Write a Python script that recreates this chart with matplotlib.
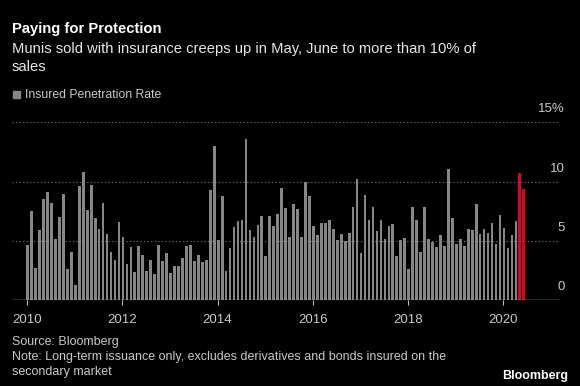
import numpy as np
import matplotlib
matplotlib.use("Agg")
import matplotlib.pyplot as plt
from matplotlib.patches import Rectangle

# monthly insured penetration rate (%), Jan 2010 .. Jun 2020
rate_2010 = [4.7, 7.5, 2.7, 5.9, 8.55, 9.1, 8.2, 5.2, 7.0, 9.0, 2.6, 4.1]
rate_2011 = [1.3, 9.6, 10.8, 7.6, 9.7, 6.9, 6.0, 8.2, 5.6, 4.05, 3.4, 6.6]
rate_2012 = [5.3, 3.1, 4.5, 2.4, 4.6, 3.8, 2.5, 3.4, 2.2, 4.7, 3.3, 4.0]
rate_2013 = [2.3, 2.9, 2.9, 3.6, 4.6, 4.7, 3.3, 3.85, 3.25, 3.4, 9.3, 13.0]
rate_2014 = [5.05, 8.8, 2.5, 4.4, 6.2, 6.65, 6.8, 13.6, 5.9, 5.35, 6.35, 7.1]
rate_2015 = [3.7, 7.1, 6.3, 7.25, 9.45, 7.75, 5.3, 8.1, 7.7, 5.35, 10.0, 8.8]
rate_2016 = [6.25, 5.5, 6.5, 6.55, 6.8, 6.0, 5.1, 5.6, 5.0, 5.65, 7.9, 10.2]
rate_2017 = [4.0, 8.85, 6.8, 7.9, 5.85, 6.8, 5.2, 6.3, 6.4, 3.75, 5.05, 5.25]
rate_2018 = [2.65, 7.9, 6.8, 4.1, 7.9, 5.15, 4.95, 4.5, 5.5, 4.6, 11.05, 6.9]
rate_2019 = [4.75, 5.2, 4.55, 6.05, 5.9, 8.1, 5.55, 6.05, 5.7, 6.5, 4.75, 7.2]
rate_2020 = [6.1, 4.4, 5.5, 6.7, 10.75, 9.4]

rates = (rate_2010 + rate_2011 + rate_2012 + rate_2013 + rate_2014 + rate_2015
         + rate_2016 + rate_2017 + rate_2018 + rate_2019 + rate_2020)
highlight = ["2020-05", "2020-06"]  # months drawn in red
months = [f"{2010 + i // 12}-{i % 12 + 1:02d}" for i in range(len(rates))]
year_ticks = [2010, 2012, 2014, 2016, 2018, 2020]
y_ticks = [0, 5, 10, 15]

BG = "black"
GREY_BAR = "#868686"
RED = "#e3001f"
TXT = "#c8c8c8"

plt.rcParams['font.family'] = ['Liberation Sans', 'DejaVu Sans']

fig = plt.figure(figsize=(5.8, 3.86), dpi=100, facecolor=BG)
ax = fig.add_axes([0.0207, 0.222, 0.945, 0.461], facecolor=BG)

x = np.arange(len(rates)) + 0.15
colors = [RED if m in highlight else GREY_BAR for m in months]
ax.bar(x, rates, width=0.68, color=colors, zorder=2)

ax.set_xlim(-3.8, 134.3)
ax.set_ylim(0, 15)

# dotted grid + labels sitting above the lines
for v in y_ticks[1:]:
    ax.axhline(v, color="#6a6a6a", linestyle=(0, (1.2, 2.0)), linewidth=0.8, zorder=1)
for v in y_ticks:
    lab = f"{v}%" if v == 15 else str(v)
    ax.annotate(lab, xy=(1.009, v), xycoords=ax.get_yaxis_transform(),
                xytext=(0, 5), textcoords="offset points",
                ha="right", va="bottom", color=TXT, fontsize=9.5)

ax.axhline(0, color="#bdbdbd", linewidth=1.0, zorder=3)
ax.set_yticks([])
ax.set_xticks([(y - 2010) * 12 for y in year_ticks])
ax.set_xticklabels([str(y) for y in year_ticks])
ax.tick_params(axis="x", colors="#bdbdbd", labelcolor=TXT, length=3.5,
               width=0.8, pad=6, labelsize=9.5)
for s in ax.spines.values():
    s.set_visible(False)

# header
fig.text(0.0207, 1 - 33.3 / 386, "Paying for Protection", color="white",
         fontsize=10.6, fontweight="bold", va="baseline")
fig.text(0.0207, 1 - 53.3 / 386,
         "Munis sold with insurance creeps up in May, June to more than 10% of",
         color="#e6e6e6", fontsize=10.6, va="baseline")
fig.text(0.0207, 1 - 71 / 386, "sales", color="#e6e6e6", fontsize=10.6, va="baseline")

# legend
fig.patches.append(Rectangle((12.7 / 580, 1 - 98.3 / 386), 7.3 / 580, 7.6 / 386,
                             transform=fig.transFigure, color=GREY_BAR))
fig.text(25 / 580, 1 - 98.5 / 386, "Insured Penetration Rate", color=TXT,
         fontsize=8.8, va="baseline")

# footer
fig.text(0.0207, 1 - 345 / 386, "Source: Bloomberg", color=TXT, fontsize=9, va="baseline")
fig.text(0.0207, 1 - 360 / 386,
         "Note: Long-term issuance only, excludes derivatives and bonds insured on the",
         color=TXT, fontsize=9, va="baseline")
fig.text(0.0207, 1 - 375 / 386, "secondary market", color=TXT, fontsize=9, va="baseline")
fig.text(568 / 580, 1 - 379 / 386, "Bloomberg", color="white", fontsize=9,
         fontweight="bold", ha="right", va="baseline")

fig.savefig("out.png", dpi=100, facecolor=BG)
